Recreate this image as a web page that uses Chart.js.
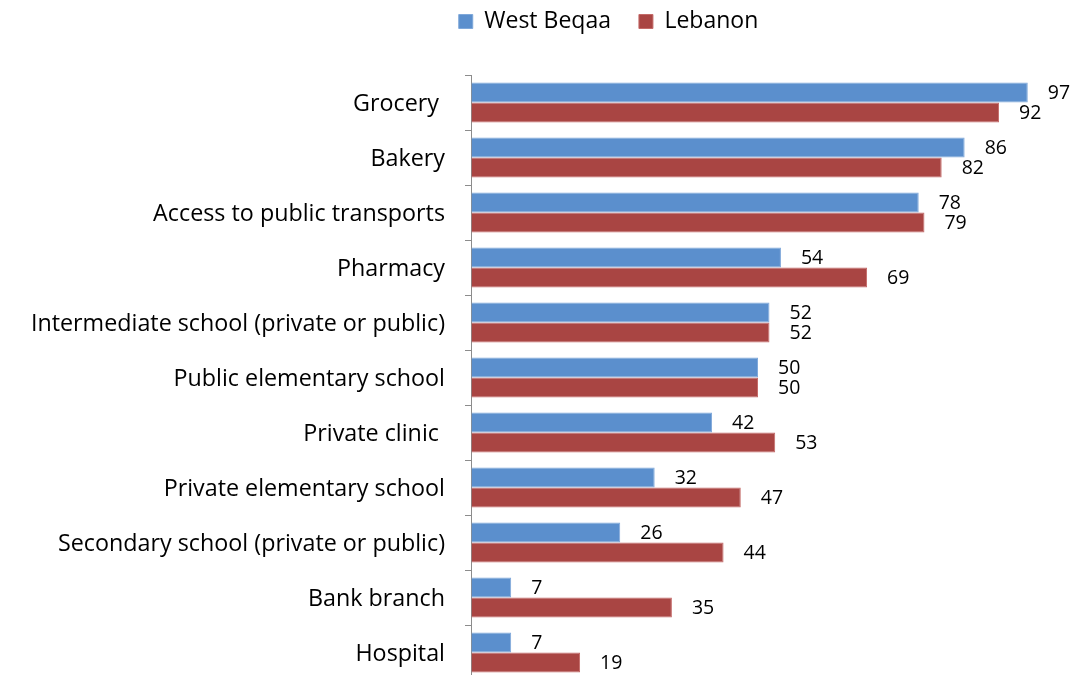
<!DOCTYPE html>
<html lang="en">
<head>
    <meta charset="UTF-8">
    <title>Services within reach - West Beqaa vs Lebanon</title>
    <script src="https://cdn.jsdelivr.net/npm/chart.js"></script>
    <style>
        html, body { margin: 0; padding: 0; overflow: hidden; background: #fff; }
        canvas { display: block; }
    </style>
</head>
<body>
    <canvas id="servicesChart" width="1087" height="680"></canvas>

    <script>
        // Data
        const categories = [
            'Grocery ',
            'Bakery',
            'Access to public transports',
            'Pharmacy',
            'Intermediate school (private or public)',
            'Public elementary school',
            'Private clinic ',
            'Private elementary school',
            'Secondary school (private or public)',
            'Bank branch',
            'Hospital'
        ];
        const westBeqaa = [97, 86, 78, 54, 52, 50, 42, 32, 26, 7, 7];
        const lebanon = [92, 82, 79, 69, 52, 50, 53, 47, 44, 35, 19];
        const seriesNames = ['West Beqaa', 'Lebanon'];

        const FONT = '"Open Sans", Lato, sans-serif';

        // Value labels to the right of every bar
        const valueLabels = {
            id: 'valueLabels',
            afterDatasetsDraw(chart) {
                const ctx = chart.ctx;
                ctx.save();
                ctx.font = '19.5px ' + FONT;
                ctx.fillStyle = '#000';
                ctx.textAlign = 'left';
                ctx.textBaseline = 'middle';
                chart.data.datasets.forEach((ds, i) => {
                    chart.getDatasetMeta(i).data.forEach((bar, j) => {
                        ctx.fillText(String(ds.data[j]), bar.x + 20, bar.y + 1);
                    });
                });
                ctx.restore();
            }
        };

        // Legend sits right of centre and close to the top in the reference
        const moveLegend = {
            id: 'moveLegend',
            afterLayout(chart) {
                const lg = chart.legend;
                lg.left += 86;
                lg.right += 86;
                lg.top -= 18;
                lg.bottom -= 18;
            }
        };

        new Chart(document.getElementById('servicesChart'), {
            type: 'bar',
            data: {
                labels: categories,
                datasets: [
                    {
                        label: seriesNames[0],
                        data: westBeqaa,
                        backgroundColor: '#5B8FCD',
                        borderColor: '#7FA8DA',
                        borderWidth: 1
                    },
                    {
                        label: seriesNames[1],
                        data: lebanon,
                        backgroundColor: '#A94543',
                        borderColor: '#C46A68',
                        borderWidth: 1
                    }
                ]
            },
            options: {
                indexAxis: 'y',
                responsive: false,
                animation: false,
                categoryPercentage: 40 / 55,
                barPercentage: 1,
                layout: { padding: { top: 0, right: 42, bottom: 0, left: 0 } },
                plugins: {
                    tooltip: { enabled: false },
                    legend: {
                        position: 'top',
                        labels: {
                            font: { family: FONT, size: 23 },
                            color: '#000',
                            boxWidth: 14,
                            boxHeight: 14,
                            padding: 28
                        }
                    }
                },
                scales: {
                    x: {
                        // invisible spacer between legend and plot
                        position: 'top',
                        min: 0,
                        max: 100,
                        ticks: { display: false },
                        grid: { drawOnChartArea: false, drawTicks: true, tickLength: 14, color: 'transparent' },
                        border: { display: false }
                    },
                    y: {
                        afterFit(scale) {
                            scale.width = 471;
                            // plot runs to the bottom edge, labels sit inside categories
                            scale.paddingTop = 0;
                            scale.paddingBottom = 0;
                        },
                        ticks: {
                            font: { family: FONT, size: 23.3 },
                            color: '#000',
                            padding: 20,
                            labelOffset: 2
                        },
                        grid: { drawOnChartArea: false, tickLength: 6, color: '#8c8c8c' },
                        border: { color: '#8c8c8c', width: 1 }
                    }
                }
            },
            plugins: [valueLabels, moveLegend]
        });
    </script>
</body>
</html>
